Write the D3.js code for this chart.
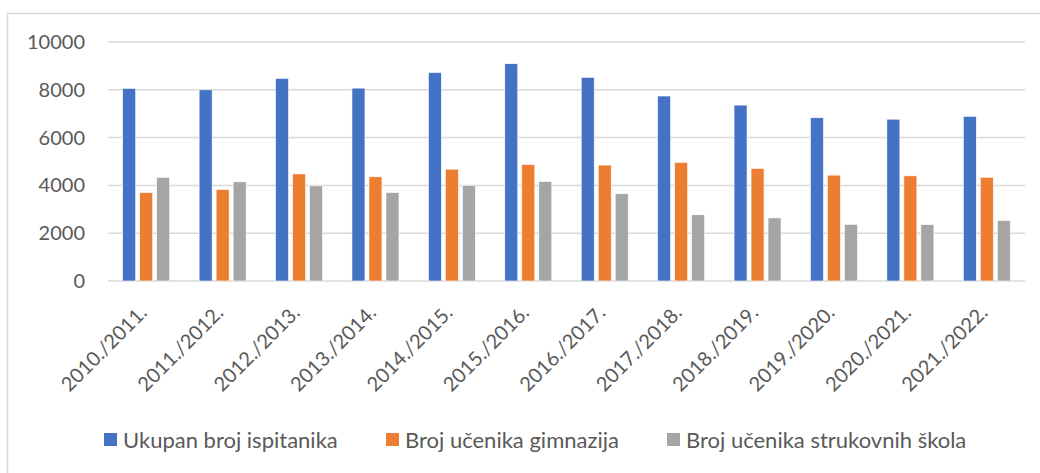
<!DOCTYPE html>
<html><head><meta charset="utf-8">
<script src="https://cdn.jsdelivr.net/npm/d3@7"></script>
<style>body{margin:0;background:#fff;} svg{display:block;font-family:Lato,"Open Sans",sans-serif;}</style>
</head><body>
<svg id="c" width="1040" height="473"></svg>
<script>
const categories = ["2010./2011.","2011./2012.","2012./2013.","2013./2014.","2014./2015.","2015./2016.","2016./2017.","2017./2018.","2018./2019.","2019./2020.","2020./2021.","2021./2022."];
const seriesNames = ["Ukupan broj ispitanika","Broj učenika gimnazija","Broj učenika strukovnih škola"];
const ukupan = [8060,8000,8480,8070,8720,9090,8520,7740,7360,6830,6770,6890];
const gimnazije = [3700,3830,4480,4360,4680,4870,4850,4960,4710,4430,4400,4340];
const strukovne = [4340,4150,3980,3700,4000,4160,3650,2770,2640,2370,2360,2530];
const yTicks = [0,2000,4000,6000,8000,10000];
const colors = ["#4472C4","#ED7D31","#A5A5A5"];
const series = [ukupan, gimnazije, strukovne];

const svg = d3.select("#c");
svg.append("rect").attr("x",7.5).attr("y",13.5).attr("width",1100).attr("height",500)
  .attr("fill","none").attr("stroke","#D9D9D9").attr("stroke-width",1.5);

const x0 = d3.scaleBand().domain(categories).range([108,1025]).paddingInner(0).paddingOuter(0);
const y = d3.scaleLinear().domain([0,10000]).range([281,42]);

const g = svg.append("g");
g.selectAll("line.grid").data(yTicks).join("line")
  .attr("x1",108).attr("x2",1025)
  .attr("y1",d=>y(d)).attr("y2",d=>y(d))
  .attr("stroke","#D9D9D9").attr("stroke-width",1.5);

g.selectAll("text.yl").data(yTicks).join("text")
  .attr("x",85).attr("y",d=>y(d)).attr("dy","0.35em")
  .attr("text-anchor","end").attr("fill","#595959").attr("font-size",20)
  .text(d=>d);

const barW = 13, gap = 4;
const groupW = barW*3 + gap*2;

series.forEach((vals,si)=>{
  g.selectAll("rect.s"+si).data(vals).join("rect")
    .attr("x",(d,i)=>x0(categories[i]) + (x0.bandwidth()-groupW)/2 + si*(barW+gap))
    .attr("width",barW)
    .attr("y",d=>y(d)).attr("height",d=>y(0)-y(d))
    .attr("fill",colors[si]).attr("stroke","#fff").attr("stroke-width",0.6);
});

g.selectAll("text.xl").data(categories).join("text")
  .attr("transform",d=>`translate(${x0(d)+x0.bandwidth()/2+2},${314}) rotate(-45)`)
  .attr("text-anchor","end").attr("fill","#595959").attr("font-size",20)
  .text(d=>d);

const legX = [104, 386, 667];
const leg = svg.append("g");
seriesNames.forEach((n,i)=>{
  leg.append("rect").attr("x",legX[i]).attr("y",433).attr("width",13).attr("height",13).attr("fill",colors[i]);
  leg.append("text").attr("x",legX[i]+19).attr("y",440).attr("dy","0.35em")
    .attr("fill","#595959").attr("font-size",22).text(n);
});
</script>
</body></html>
